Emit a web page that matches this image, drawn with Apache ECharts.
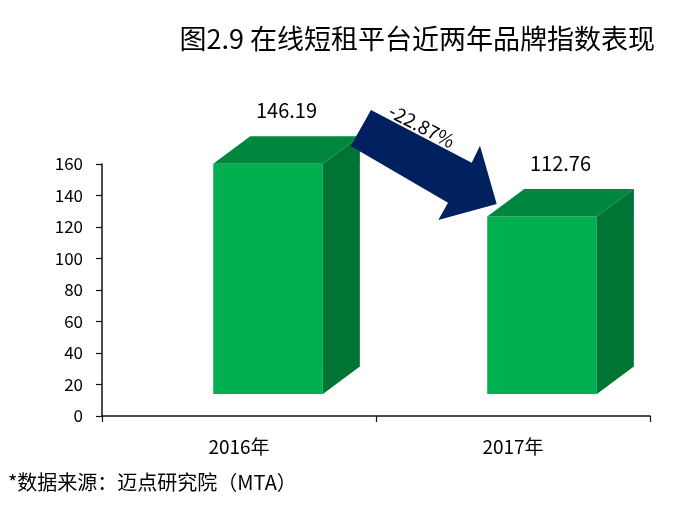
<!DOCTYPE html>
<html>
<head>
<meta charset="utf-8">
<script src="https://cdn.jsdelivr.net/npm/echarts@6/dist/echarts.min.js"></script>
<style>
html,body{margin:0;padding:0;background:#fff;}
#c{width:693px;height:510px;}
</style>
</head>
<body>
<div id="c"></div>
<script>
const categories = ['2016年', '2017年'];
const brandIndex = [146.19, 112.76];
const changeLabel = '-22.87%';
const yTicks = { min: 0, max: 160, interval: 20 };
const titleText = '图2.9 在线短租平台近两年品牌指数表现';
const sourceText = '*数据来源：迈点研究院（MTA）';

const FONT = '"Noto Sans CJK SC", "Noto Sans", sans-serif';
const chart = echarts.init(document.getElementById('c'), null, { renderer: 'canvas' });

const option = {
  backgroundColor: '#fff',
  animation: false,
  grid: { left: 102, right: 43, top: 164, bottom: 94 },
  xAxis: {
    type: 'category',
    data: categories,
    boundaryGap: true,
    axisLine: { lineStyle: { color: '#111', width: 1.5 } },
    axisTick: { show: true, length: 6, lineStyle: { color: '#111', width: 1.2 } },
    axisLabel: { color: '#000', fontSize: 19, fontFamily: FONT, margin: 21 }
  },
  yAxis: {
    type: 'value',
    min: yTicks.min, max: yTicks.max, interval: yTicks.interval,
    axisLine: { show: true, lineStyle: { color: '#111', width: 1.5 } },
    axisTick: { show: true, length: 6, lineStyle: { color: '#111', width: 1.2 } },
    splitLine: { show: false },
    axisLabel: { color: '#000', fontSize: 17, fontFamily: FONT, margin: 19 }
  },
  series: [{
    type: 'custom',
    data: brandIndex.map((v, i) => [i, v]),
    renderItem: function (params, api) {
      const i = api.value(0);
      const v = api.value(1);
      const c = api.coord([i, v]);
      const b = api.coord([i, 0]);
      const band = api.size([1, 0])[0];
      const w = band * 0.4;
      const xl = c[0] + band * 0.106 - w / 2;
      const lift = 22;
      const top = c[1] - lift, bot = b[1] - lift;
      const dx = 37, dy = -27.5;
      return {
        type: 'group',
        children: [
          { type: 'rect', shape: { x: xl, y: top, width: w, height: bot - top }, style: { fill: '#00b050' } },
          { type: 'polygon', shape: { points: [[xl, top], [xl + w, top], [xl + w + dx, top + dy], [xl + dx, top + dy]] }, style: { fill: '#00873d' } },
          { type: 'polygon', shape: { points: [[xl + w, top], [xl + w + dx, top + dy], [xl + w + dx, bot + dy], [xl + w, bot]] }, style: { fill: '#007433' } },
          { type: 'text', x: xl + w / 2 + dx / 2, y: top - 53,
            style: { text: String(v.toFixed(2)), fill: '#000', font: '20px ' + FONT, align: 'center', verticalAlign: 'middle' } }
        ]
      };
    }
  }],
  graphic: [
    { type: 'text', right: 38, top: 25,
      style: { text: titleText, fill: '#000', font: '27px ' + FONT } },
    { type: 'text', left: 8, top: 472,
      style: { text: sourceText, fill: '#000', font: '20px ' + FONT } },
    { type: 'polygon', z: 10,
      shape: { points: [[371, 110], [471.7, 162.7], [480, 145.7], [496.7, 204], [438.3, 220], [448, 202.7], [350.7, 146]] },
      style: { fill: '#002060' } },
    { type: 'text', z: 11, x: 422, y: 126, rotation: -27.6 * Math.PI / 180,
      style: { text: changeLabel, fill: '#000', font: '19px ' + FONT, align: 'center', verticalAlign: 'middle' } }
  ]
};
chart.setOption(option);
</script>
</body>
</html>
